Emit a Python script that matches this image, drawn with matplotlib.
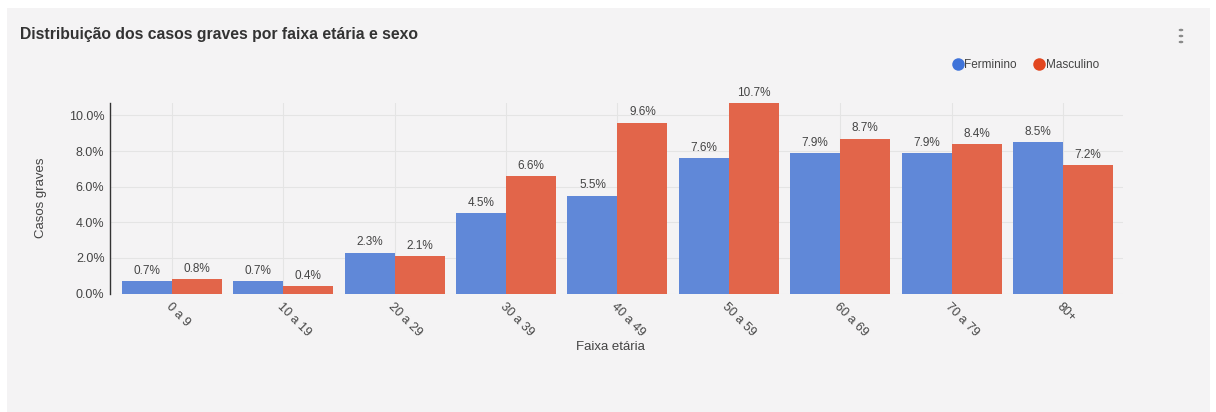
import numpy as np
import matplotlib
matplotlib.use("Agg")
import matplotlib.pyplot as plt
from matplotlib.patches import Rectangle
from matplotlib.lines import Line2D

# data
faixas = ["0 a 9", "10 a 19", "20 a 29", "30 a 39", "40 a 49",
          "50 a 59", "60 a 69", "70 a 79", "80+"]
feminino = [0.7, 0.7, 2.3, 4.5, 5.5, 7.6, 7.9, 7.9, 8.5]
masculino = [0.8, 0.4, 2.1, 6.6, 9.6, 10.7, 8.7, 8.4, 7.2]
yticks = [0, 2, 4, 6, 8, 10]

c_fem = "#6088d8"
c_mas = "#e2654a"
c_fem_leg = "#3f73d9"
c_mas_leg = "#e2461f"
bg = "#f4f3f4"
txt = "#444444"

plt.rcParams['font.family'] = ['Liberation Sans', 'DejaVu Sans']

fig = plt.figure(figsize=(12.16, 4.12), dpi=100, facecolor="white")
W, H = 1216, 412
# card background
fig.patches.append(Rectangle((7 / W, 0), (1210 - 7) / W, (412 - 8) / H,
                             transform=fig.transFigure, facecolor=bg,
                             edgecolor="none", zorder=-10))

ax = fig.add_axes([110 / W, 1 - 293.5 / H, (1123 - 110) / W, (293.5 - 103) / H])
ax.set_facecolor(bg)

x = np.arange(len(faixas))
w = 0.449
b1 = ax.bar(x - w / 2, feminino, w, color=c_fem, zorder=2)
b2 = ax.bar(x + w / 2, masculino, w, color=c_mas, zorder=2)

for bars, vals in ((b1, feminino), (b2, masculino)):
    for r, v in zip(bars, vals):
        ax.annotate(f"{v:.1f}%", (r.get_x() + r.get_width() / 2, v),
                    xytext=(0, 3), textcoords="offset points",
                    ha="center", va="bottom", fontsize=8.5, color=txt)

ax.set_xlim(-0.557, 8.54)
ax.set_ylim(0, 10.7)
ax.set_yticks(yticks)
ax.set_yticklabels([f"{v:.1f}%" for v in yticks], fontsize=9, color=txt)
ax.set_xticks(x)
ax.set_xticklabels(faixas, rotation=-45, ha="left", va="top",
                   rotation_mode="anchor", fontsize=9, color=txt)
ax.tick_params(axis="x", length=0, pad=5)
ax.tick_params(axis="y", length=0, pad=4)
ax.grid(True, color="#e4e4e4", linewidth=0.8, zorder=0)
ax.set_axisbelow(True)
for s in ("top", "right", "bottom"):
    ax.spines[s].set_visible(False)
ax.spines["left"].set_color("#333333")
ax.spines["left"].set_linewidth(1.0)

ax.set_ylabel("Casos graves", fontsize=9.5, color=txt, labelpad=16)
fig.text(610 / W, 1 - 347 / H, "Faixa etária", ha="center", va="center",
         fontsize=9.5, color=txt)

fig.text(20 / W, 1 - 35 / H, "Distribuição dos casos graves por faixa etária e sexo",
         ha="left", va="center", fontsize=11.3, fontweight="bold", color="#333333")

# three-dot menu
for yy in (30, 36, 42):
    fig.patches.append(plt.Circle((1181 / W, 1 - yy / H), 1.6 / W,
                                  transform=fig.transFigure, color="#8a8a8a"))

handles = [Line2D([], [], marker="o", linestyle="none", markersize=9,
                  markerfacecolor=c_fem_leg, markeredgecolor="none"),
           Line2D([], [], marker="o", linestyle="none", markersize=9,
                  markerfacecolor=c_mas_leg, markeredgecolor="none")]
fig.legend(handles, ["Ferminino", "Masculino"], loc="center left",
           bbox_to_anchor=(941 / W, 1 - 65 / H), ncol=2, frameon=False,
           fontsize=8.5, handletextpad=0.05, columnspacing=1.4,
           handlelength=1.0, labelcolor=txt)

fig.savefig("out.png", dpi=100, facecolor="white")
